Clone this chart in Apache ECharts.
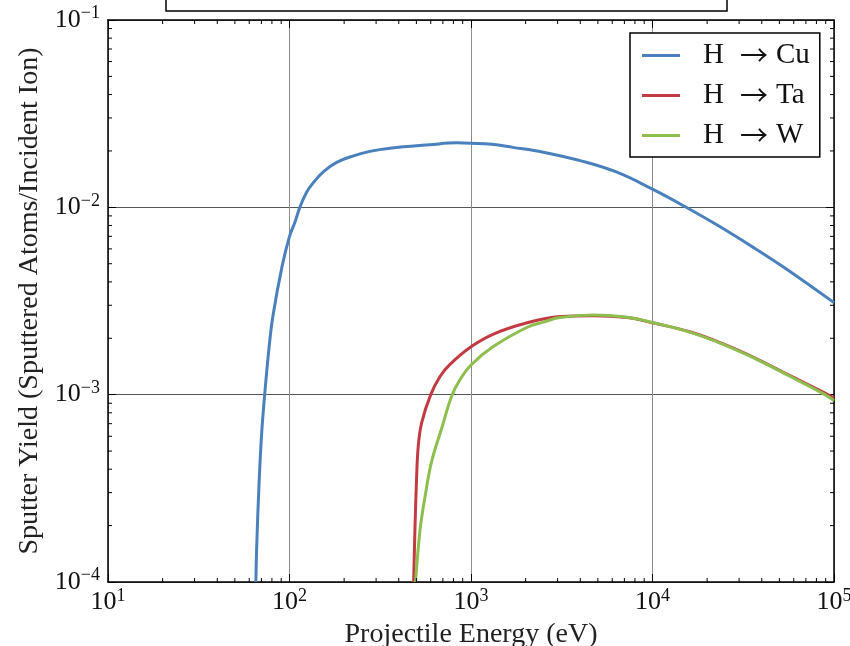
<!DOCTYPE html>
<html>
<head>
<meta charset="utf-8">
<script src="https://cdn.jsdelivr.net/npm/echarts@6/dist/echarts.min.js"></script>
<style>
html,body{margin:0;padding:0;background:#fff;}
#chart{width:850px;height:646px;}
</style>
</head>
<body>
<div id="chart"></div>
<script>
// ---- data ----
const cuE = [65.3, 65.9, 68, 70.3, 73, 77, 81, 91, 100, 107, 114, 124, 135, 154, 182, 225, 277, 358, 594, 837, 1000, 1300, 1700, 2500, 4140, 6370, 10000, 15500, 22600, 34400, 52400, 100000];
const cuY = [1e-4, 1.5e-4, 3.4e-4, 6.3e-4, 1e-3, 1.75e-3, 2.62e-3, 4.84e-3, 7.0e-3, 8.3e-3, 0.0100, 0.0120, 0.0135, 0.0155, 0.01738, 0.01884, 0.0199, 0.0207, 0.0216, 0.0221, 0.0220, 0.0217, 0.0209, 0.0197, 0.0176, 0.0154, 0.0125, 0.00995, 0.00807, 0.00628, 0.00482, 0.0031];

const taE = [483, 491, 501, 512, 535, 600, 675, 766, 1000, 1320, 2040, 3090, 4700, 7240, 10000, 16200, 24700, 37700, 57500, 87700, 100000];
const taY = [1e-4, 1.9e-4, 3.5e-4, 5.3e-4, 7.1e-4, 1.0e-3, 1.25e-3, 1.45e-3, 1.8e-3, 2.1e-3, 2.42e-3, 2.61e-3, 2.64e-3, 2.58e-3, 2.42e-3, 2.16e-3, 1.86e-3, 1.55e-3, 1.26e-3, 1.03e-3, 9.6e-4];

const wE = [495, 524, 558, 607, 689, 782, 869, 1000, 1320, 2040, 2500, 3090, 4700, 7240, 10000, 16200, 24700, 37700, 57500, 87700, 100000];
const wY = [1e-4, 1.9e-4, 2.85e-4, 4.4e-4, 6.6e-4, 9.8e-4, 1.2e-3, 1.44e-3, 1.8e-3, 2.29e-3, 2.44e-3, 2.58e-3, 2.66e-3, 2.59e-3, 2.43e-3, 2.15e-3, 1.85e-3, 1.54e-3, 1.25e-3, 1.01e-3, 9.3e-4];

const seriesNames = ['H \u2192 Cu', 'H \u2192 Ta', 'H \u2192 W'];
const xRange = [10, 100000];
const yRange = [1e-4, 1e-1];
const minorMult = [2, 3, 4, 5, 6, 7, 8, 9];
const xDecades = [10, 100, 1000, 10000];
const yDecades = [1e-4, 1e-3, 1e-2];

// ---- build ----
const pairs = (xs, ys) => xs.map((x, i) => [x, ys[i]]);
const minorX = [];
xDecades.forEach(d => minorMult.forEach(m => minorX.push(['x', m * d])));
const minorY = [];
yDecades.forEach(d => minorMult.forEach(m => minorY.push(['y', m * d])));

const FONT = "'Liberation Serif', 'DejaVu Serif', serif";
const colors = ['#4a81bd', '#c23b42', '#8dbe4e'];

function powLabel(v) {
  const e = Math.round(Math.log10(v));
  const s = e < 0 ? '\u2212' + (-e) : '' + e;
  return '{b|10}{s|' + s + '}';
}
const richLbl = {
  b: {fontSize: 26, fontFamily: FONT, color: '#111'},
  s: {fontSize: 18, fontFamily: FONT, color: '#111', padding: [0, 0, 13, 0]}
};

const chart = echarts.init(document.getElementById('chart'), null, {renderer: 'canvas'});

const baseX = {type: 'log', logBase: 10, min: xRange[0], max: xRange[1], gridIndex: 0};
const baseY = {type: 'log', logBase: 10, min: yRange[0], max: yRange[1], gridIndex: 0};

function minorTickRender(params, api) {
  const kind = api.value(0);
  const v = api.value(1);
  const L = 4;
  let lines = [];
  if (kind === 'x') {
    const pb = api.coord([v, yRange[0]]);
    const pt = api.coord([v, yRange[1]]);
    lines = [[pb[0], pb[1], pb[0], pb[1] - L], [pt[0], pt[1], pt[0], pt[1] + L]];
  } else {
    const pl = api.coord([xRange[0], v]);
    const pr = api.coord([xRange[1], v]);
    lines = [[pl[0], pl[1], pl[0] + L, pl[1]], [pr[0], pr[1], pr[0] - L, pr[1]]];
  }
  return {
    type: 'group',
    children: lines.map(l => ({
      type: 'line',
      shape: {x1: l[0], y1: l[1], x2: l[2], y2: l[3]},
      style: {stroke: '#000', lineWidth: 1}
    }))
  };
}

const lineSeries = (i, xs, ys, z) => ({
  name: seriesNames[i], type: 'line', data: pairs(xs, ys), showSymbol: false, symbol: 'none',
  smooth: 0.4, lineStyle: {color: colors[i], width: 3}, itemStyle: {color: colors[i]},
  xAxisIndex: 0, yAxisIndex: 0, z: z
});

const option = {
  animation: false,
  backgroundColor: '#fff',
  grid: {left: 108, right: 16, top: 20, bottom: 64, show: false, outerBoundsMode: 'none', containLabel: false},
  legend: {
    data: seriesNames,
    orient: 'vertical',
    left: 630,
    top: 33,
    padding: [7, 10, 6, 12],
    itemGap: 9,
    itemWidth: 38,
    itemHeight: 3,
    icon: 'rect',
    borderColor: '#000',
    borderWidth: 1.5,
    borderRadius: 0,
    backgroundColor: '#fff',
    formatter: name => name.replace(' \u2192 ', '{a|\u2192}'),
    textStyle: {
      fontFamily: FONT, fontSize: 29, color: '#111', padding: [0, 0, 0, 18], lineHeight: 31,
      rich: {a: {fontFamily: "'Noto Sans CJK JP', 'DejaVu Sans', sans-serif", fontSize: 28, color: '#111', lineHeight: 31, padding: [0, 8, 0, 16]}}
    },
    z: 10
  },
  xAxis: [
    Object.assign({}, baseX, {
      position: 'bottom',
      name: 'Projectile Energy (eV)',
      nameLocation: 'middle',
      nameGap: 34,
      nameTextStyle: {fontFamily: FONT, fontSize: 28, color: '#222'},
      axisLine: {show: true, onZero: false, lineStyle: {color: '#000', width: 1.5}},
      axisTick: {show: true, inside: true, length: 8, lineStyle: {color: '#000'}},
      axisLabel: {show: true, margin: 5, formatter: powLabel, rich: richLbl},
      splitLine: {show: true, lineStyle: {color: '#8c8c8c', width: 1}}
    }),
    Object.assign({}, baseX, {
      position: 'top',
      axisLine: {show: true, onZero: false, lineStyle: {color: '#000', width: 1.5}},
      axisTick: {show: true, inside: true, length: 8, lineStyle: {color: '#000'}},
      axisLabel: {show: false},
      splitLine: {show: false}
    })
  ],
  yAxis: [
    Object.assign({}, baseY, {
      position: 'left',
      name: 'Sputter Yield (Sputtered Atoms/Incident Ion)',
      nameLocation: 'middle',
      nameGap: 61,
      nameTextStyle: {fontFamily: FONT, fontSize: 28, color: '#222'},
      axisLine: {show: true, onZero: false, lineStyle: {color: '#000', width: 1.5}},
      axisTick: {show: true, inside: true, length: 8, lineStyle: {color: '#000'}},
      axisLabel: {show: true, margin: 8, formatter: powLabel, rich: richLbl},
      splitLine: {show: true, lineStyle: {color: '#555', width: 1}}
    }),
    Object.assign({}, baseY, {
      position: 'right',
      axisLine: {show: true, onZero: false, lineStyle: {color: '#000', width: 1.5}},
      axisTick: {show: true, inside: true, length: 8, lineStyle: {color: '#000'}},
      axisLabel: {show: false},
      splitLine: {show: false}
    })
  ],
  series: [
    lineSeries(0, cuE, cuY, 3),
    lineSeries(1, taE, taY, 3),
    lineSeries(2, wE, wY, 4),
    {type: 'custom', data: minorX.concat(minorY), renderItem: minorTickRender, silent: true,
     xAxisIndex: 0, yAxisIndex: 0, dimensions: ['kind', 'v'], encode: {x: -1, y: -1}, clip: false, z: 5}
  ],
  graphic: [
    {type: 'rect', shape: {x: 166, y: -4, width: 561, height: 15}, style: {fill: '#fff', stroke: '#000', lineWidth: 1.5}, z: 100}
  ]
};
chart.setOption(option);
</script>
</body>
</html>
